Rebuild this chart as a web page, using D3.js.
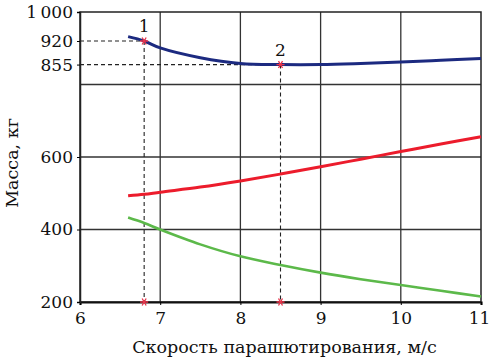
<!DOCTYPE html>
<html>
<head>
<meta charset="utf-8">
<script src="https://cdn.jsdelivr.net/npm/d3@7"></script>
<style>
  body { margin: 0; background: #fff; }
  text { font-family: "DejaVu Serif", serif; fill: #111; }
</style>
</head>
<body>
<div id="svg-area"></div>
<script>
// Data
var speeds = [6.6, 6.8, 7, 7.5, 8, 8.5, 9, 9.5, 10, 10.5, 11];
var totalMass = [932, 920, 901, 874, 858, 855, 855, 858, 862, 867, 872];
var redMass = [493, 497, 503, 517, 534, 553, 573, 594, 615, 636, 656];
var greenMass = [433, 418, 400, 359, 326, 302, 281, 263, 247, 231, 215];

var xTicks = [6, 7, 8, 9, 10, 11];
var yGrid = [400, 600, 800];
var yTickLabels = [200, 400, 600, 855, 920, 1000];

// marked points: 1 and 2
var pointNames = ["1", "2"];
var pointSpeeds = [6.8, 8.5];
var pointMasses = [920, 855];

var svgWidth = 490;
var svgHeight = 361;

var margin = {
  top: 12,
  right: 9,
  bottom: 59,
  left: 80
};

var chartWidth = svgWidth - margin.left - margin.right;
var chartHeight = svgHeight - margin.top - margin.bottom;

var svg = d3.select("#svg-area")
  .append("svg")
  .attr("width", svgWidth)
  .attr("height", svgHeight);

var chartGroup = svg.append("g")
  .attr("transform", `translate(${margin.left}, ${margin.top})`);

var xScale = d3.scaleLinear()
  .domain([6, 11])
  .range([0, chartWidth]);

var yScale = d3.scaleLinear()
  .domain([200, 1000])
  .range([chartHeight, 0]);

// grid lines
chartGroup.selectAll(".hgrid")
  .data(yGrid)
  .enter()
  .append("line")
  .attr("x1", 0)
  .attr("x2", chartWidth)
  .attr("y1", d => yScale(d))
  .attr("y2", d => yScale(d))
  .attr("stroke", "#333")
  .attr("stroke-width", 1.3);

chartGroup.selectAll(".vgrid")
  .data(xTicks.slice(1, -1))
  .enter()
  .append("line")
  .attr("x1", d => xScale(d))
  .attr("x2", d => xScale(d))
  .attr("y1", 0)
  .attr("y2", chartHeight)
  .attr("stroke", "#333")
  .attr("stroke-width", 1.3);

// frame
chartGroup.append("rect")
  .attr("width", chartWidth)
  .attr("height", chartHeight)
  .attr("fill", "none")
  .attr("stroke", "#222")
  .attr("stroke-width", 1.5);

// dashed guide lines for points 1 and 2
pointSpeeds.forEach(function(s, i) {
  chartGroup.append("line")
    .attr("x1", 0)
    .attr("x2", xScale(s))
    .attr("y1", yScale(pointMasses[i]))
    .attr("y2", yScale(pointMasses[i]))
    .attr("stroke", "#222")
    .attr("stroke-width", 1.2)
    .attr("stroke-dasharray", "4,3");
  chartGroup.append("line")
    .attr("x1", xScale(s))
    .attr("x2", xScale(s))
    .attr("y1", yScale(pointMasses[i]))
    .attr("y2", chartHeight)
    .attr("stroke", "#222")
    .attr("stroke-width", 1.1)
    .attr("stroke-dasharray", "4,3");
});

// curves
var line = d3.line()
  .x((d, i) => xScale(speeds[i]))
  .y(d => yScale(d))
  .curve(d3.curveCatmullRom.alpha(0.5));

chartGroup.append("path")
  .attr("d", line(greenMass))
  .attr("fill", "none")
  .attr("stroke", "#5cb94a")
  .attr("stroke-width", 2.6);

chartGroup.append("path")
  .attr("d", line(redMass))
  .attr("fill", "none")
  .attr("stroke", "#ec1c2c")
  .attr("stroke-width", 3);

chartGroup.append("path")
  .attr("d", line(totalMass))
  .attr("fill", "none")
  .attr("stroke", "#1c2a80")
  .attr("stroke-width", 3);

// axes
var bottomAxis = d3.axisBottom(xScale)
  .tickValues(xTicks)
  .tickSize(3)
  .tickFormat(d3.format("d"));

var leftAxis = d3.axisLeft(yScale)
  .tickValues(yTickLabels)
  .tickSize(3)
  .tickFormat(d => d === 1000 ? "1\u2009000" : d);

var xAxisG = chartGroup.append("g")
  .attr("transform", `translate(0, ${chartHeight})`)
  .call(bottomAxis);

var yAxisG = chartGroup.append("g")
  .call(leftAxis);

xAxisG.select(".domain").attr("stroke", "#111").attr("stroke-width", 2.2);
yAxisG.select(".domain").attr("stroke", "#222").attr("stroke-width", 1.5);

xAxisG.selectAll("text")
  .attr("font-size", 17)
  .attr("font-family", "DejaVu Serif")
  .attr("dy", "0.95em")
  .attr("dx", d => d === 11 ? "-0.12em" : 0)
  .attr("fill", "#111");

yAxisG.selectAll("text")
  .attr("font-size", 17)
  .attr("font-family", "DejaVu Serif")
  .attr("x", -7)
  .attr("fill", "#111");

// asterisk markers
var star = d3.symbol().type(d3.symbolAsterisk).size(45);
pointSpeeds.forEach(function(s, i) {
  [pointMasses[i], 200].forEach(function(m) {
    chartGroup.append("path")
      .attr("d", star())
      .attr("transform", `translate(${xScale(s)}, ${yScale(m)}) rotate(30)`)
      .attr("fill", "none")
      .attr("stroke", "#e8344a")
      .attr("stroke-width", 1.3);
  });
  chartGroup.append("text")
    .attr("x", xScale(s))
    .attr("y", yScale(pointMasses[i]) - 9)
    .attr("text-anchor", "middle")
    .attr("font-size", 17)
    .text(pointNames[i]);
});

// axis titles
svg.append("text")
  .attr("x", margin.left + chartWidth / 2 + 4)
  .attr("y", 353)
  .attr("text-anchor", "middle")
  .attr("font-size", 17.5)
  .text("Скорость парашютирования, м/с");

svg.append("text")
  .attr("transform", "translate(17.5, 163) rotate(-90)")
  .attr("text-anchor", "middle")
  .attr("font-size", 17.5)
  .text("Масса, кг");
</script>
</body>
</html>
